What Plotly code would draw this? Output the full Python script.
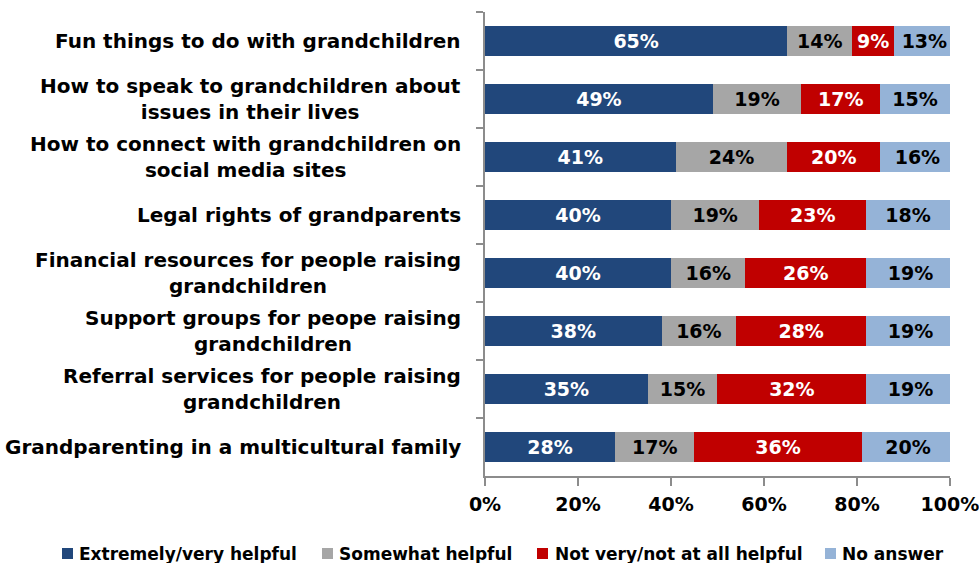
import plotly.graph_objects as go

categories = [
    "Fun things to do with grandchildren",
    "How to speak to grandchildren about<br>issues in their lives",
    "How to connect with grandchildren on<br>social media sites",
    "Legal rights of grandparents",
    "Financial resources for people raising<br>grandchildren",
    "Support groups for peope raising<br>grandchildren",
    "Referral services for people raising<br>grandchildren",
    "Grandparenting in a multicultural family",
]
series_names = ["Extremely/very helpful", "Somewhat helpful",
                "Not very/not at all helpful", "No answer"]
extremely = [65, 49, 41, 40, 40, 38, 35, 28]
somewhat = [14, 19, 24, 19, 16, 16, 15, 17]
not_very = [9, 17, 20, 23, 26, 28, 32, 36]
no_answer = [13, 15, 16, 18, 19, 19, 19, 20]
x_ticks = [0, 0.2, 0.4, 0.6, 0.8, 1.0]
x_tick_labels = ["0%", "20%", "40%", "60%", "80%", "100%"]

colors = ["#21477B", "#A6A6A6", "#C00000", "#95B3D7"]
text_colors = ["white", "black", "white", "black"]
FONT = "DejaVu Sans"

W, H = 979, 563
ML, MR, MT, MB = 485, 29, 12, 87
PW, PH = W - ML - MR, H - MT - MB


def px_x(px):
    return (px - ML) / PW


def px_y(py):
    return (H - MB - py) / PH


fig = go.Figure()
for name, vals, col, tcol in zip(series_names,
                                 [extremely, somewhat, not_very, no_answer],
                                 colors, text_colors):
    fig.add_trace(go.Bar(
        y=categories,
        x=[v / 100 for v in vals],
        name=name,
        orientation="h",
        marker=dict(color=col, line=dict(width=0)),
        width=0.52,
        text=[f"{v}%" for v in vals],
        textposition="inside",
        insidetextanchor="middle",
        textangle=0,
        textfont=dict(family=FONT, size=19, color=tcol, weight="bold"),
        hoverinfo="skip",
        showlegend=False,
    ))

for cat in categories:
    fig.add_annotation(
        x=0, xref="paper", xshift=-22, xanchor="right",
        y=cat, yref="y", yanchor="middle",
        text=cat, align="center", showarrow=False,
        font=dict(family=FONT, size=20, color="black", weight="bold"),
    )

# manual legend (one row, like the reference)
legend_sq_x = [62, 322, 537, 825]
legend_txt_x = [77, 337, 553, 840]
for name, col, sx, tx in zip(series_names, colors, legend_sq_x, legend_txt_x):
    fig.add_shape(
        type="rect", xref="paper", yref="paper",
        x0=px_x(sx), x1=px_x(sx + 11), y0=px_y(559), y1=px_y(548),
        fillcolor=col, line=dict(width=0),
    )
    fig.add_annotation(
        x=px_x(tx), xref="paper", xanchor="left",
        y=px_y(553.5), yref="paper", yanchor="middle",
        text=name, showarrow=False,
        font=dict(family=FONT, size=17, color="black", weight="bold"),
    )

fig.update_layout(
    barmode="stack",
    width=W, height=H,
    margin=dict(l=ML, r=MR, t=MT, b=MB, autoexpand=False),
    paper_bgcolor="white",
    plot_bgcolor="white",
    font=dict(family=FONT, color="black"),
    showlegend=False,
    xaxis=dict(
        range=[0, 1.0001], tickvals=x_ticks, ticktext=x_tick_labels,
        showgrid=False, zeroline=False,
        showline=True, linecolor="#8C8C8C", linewidth=1.5,
        ticks="outside", ticklen=8, tickcolor="#8C8C8C", tickwidth=1.5,
        ticklabelstandoff=2, ticklabeloverflow="allow",
        tickfont=dict(family=FONT, size=19, color="black", weight="bold"),
        fixedrange=True,
    ),
    yaxis=dict(
        categoryorder="array", categoryarray=categories,
        autorange="reversed",
        showticklabels=False, showgrid=False, zeroline=False,
        showline=True, linecolor="#8C8C8C", linewidth=1.5,
        ticks="outside", tickson="boundaries", ticklen=7,
        tickcolor="#8C8C8C", tickwidth=1.5,
        fixedrange=True,
    ),
)

fig.write_html("out.html", config={"displayModeBar": False},
               post_script="document.body.style.margin='0px';")
